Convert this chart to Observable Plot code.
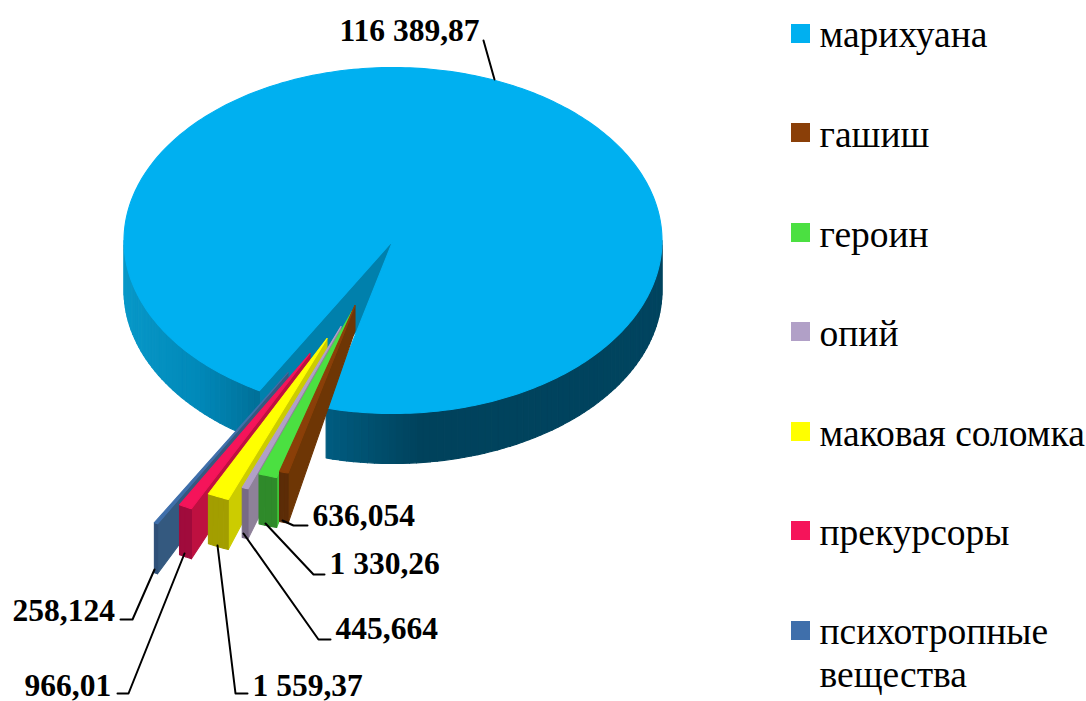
<!DOCTYPE html>
<html lang="ru">
<head>
<meta charset="utf-8">
<style>html,body{margin:0;padding:0;background:#fff}svg{display:block}</style>
<script src="https://cdn.jsdelivr.net/npm/d3@7"></script>
<script src="https://cdn.jsdelivr.net/npm/@observablehq/plot@0.6"></script>
</head>
<body>
<div id="chart"></div>
<script>
// Data
const categories = ["марихуана","гашиш","героин","опий","маковая соломка","прекурсоры","психотропные\nвещества"];
const values = [116389.87,636.054,1330.26,445.664,1559.37,966.01,258.124];
const valueLabels = ["116 389,87","636,054","1 330,26","445,664","1 559,37","966,01","258,124"];

// Styles
const topColors  = ["#00B0F0","#8A3F08","#4BE041","#B1A0C7","#FFFF00","#F5145A","#3F6FAB"];
const rimColors  = [null,"#5C2C07","#2F8A2A","#776A85","#A39E00","#A00B3C","#2F5078"];
const wallColors = ["#0080AC","#6E3605","#3FC238","#8E8199","#CCCC00","#BE1040","#34597F"];

// Pie layout: 3D projection and explosion of each slice
const pie3d = {cx: 392.5, cy: 240, rx: 269, ry: 173, depth: 50, apexDepth: 25, startDeg: 29.78};
const explodeX = [0,-38,-41,-52,-66,-83,-105];
const explodeY = [0,65,71,86,98,113,132];
const drawOrder = [6,5,4,3,2,1];

const rimShade = d3.scaleLinear()
  .domain([123,200,258,326,420,662])
  .range(["#0898C8","#0088B8","#007098","#005C80","#00425C","#00445F"]);

const labelAnchors = [[339,40],[312,525],[329,573],[335,638],[252,695],[24,695],[12,620]];
const leaders = [
  [[483,40],[494,79]],
  [[282,520],[293,525],[307,525]],
  [[265,523],[313,574],[324,574]],
  [[243,533],[318,639],[330,639]],
  [[217,545],[235,693],[247,693]],
  [[184,553],[128,693],[117,693]],
  [[154,569],[132,619],[120,619]]
];
const legendBaselines = [46,146,246,345,445,544,643];
const legendSwatchTops = [24,123,223,322,422,521,621];
const legendFontSize = 37.5, legendLinePx = 44;

// Geometry derived from the values
const arcs = d3.pie().sort(null)
  .startAngle(pie3d.startDeg*Math.PI/180)
  .endAngle(pie3d.startDeg*Math.PI/180+2*Math.PI)(values);
const px = (a,i=0)=>pie3d.cx-pie3d.rx*Math.sin(a)+explodeX[i];
const py = (a,i=0,d=0)=>pie3d.cy+pie3d.ry*Math.cos(a)+explodeY[i]+d;

const polys = [];
let pid = 0;
function addPoly(points,color,sw=0.4){
  const id = pid++;
  [...points,points[0]].forEach(([x,y])=>polys.push({id,color,x,y,sw}));
}
function arcAngles(a0,a1,step){
  const n = Math.max(1,Math.ceil((a1-a0)/step));
  return d3.range(n+1).map(k=>a0+(a1-a0)*k/n);
}
function rimStrip(a0,a1,i,colorOf){
  const as = arcAngles(a0,a1,1.5*Math.PI/180);
  for(let k=0;k<as.length-1;k++){
    const a=as[k],b=as[k+1];
    addPoly([[px(a,i),py(a,i)],[px(b,i),py(b,i)],[px(b,i),py(b,i,pie3d.depth)],[px(a,i),py(a,i,pie3d.depth)]],colorOf((a+b)/2));
  }
}
// Main slice: cut wall, rim, top
const main = arcs[0];
addPoly([[pie3d.cx,pie3d.cy],[px(main.startAngle),py(main.startAngle)],
         [px(main.startAngle),py(main.startAngle,0,pie3d.depth)],[pie3d.cx,pie3d.cy+pie3d.depth]],wallColors[0]);
const shade = a=>rimShade(px(a));
rimStrip(main.startAngle,Math.PI/2,0,shade);
rimStrip(1.5*Math.PI,main.endAngle,0,shade);
addPoly([[pie3d.cx,pie3d.cy],...arcAngles(main.startAngle,main.endAngle,Math.PI/180).map(a=>[px(a),py(a)])],topColors[0]);
// Exploded slices, back to front
for(const i of drawOrder){
  const {startAngle:s,endAngle:e} = arcs[i];
  const ax = pie3d.cx+explodeX[i], ay = pie3d.cy+explodeY[i];
  addPoly([[ax,ay],[px(s,i),py(s,i)],[px(s,i),py(s,i,pie3d.depth)],[ax,ay+pie3d.apexDepth]],wallColors[i]);
  rimStrip(s,e,i,()=>rimColors[i]);
  addPoly([[ax,ay],...arcAngles(s,e,Math.PI/360).map(a=>[px(a,i),py(a,i)])],topColors[i]);
}

const leaderRows = leaders.flatMap((pts,id)=>pts.map(([x,y])=>({id,x,y})));
const labelRows = valueLabels.map((t,i)=>({t,x:labelAnchors[i][0],y:labelAnchors[i][1]}));
const legendRows = categories.map((t,i)=>({t,color:topColors[i],base:legendBaselines[i],top:legendSwatchTops[i]}));

const chart = Plot.plot({
  width:1086,height:701,margin:0,
  x:{domain:[0,1086],range:[0,1086],axis:null},
  y:{domain:[0,701],range:[0,701],axis:null},
  color:{type:"identity"},
  style:{background:"#fff"},
  marks:[
    Plot.line(polys,{x:"x",y:"y",z:"id",fill:"color",stroke:"color",strokeWidth:1.1,curve:"linear"}),
    Plot.line(leaderRows,{x:"x",y:"y",z:"id",stroke:"#000",strokeWidth:2,curve:"linear"}),
    Plot.text(labelRows,{x:"x",y:"y",text:"t",textAnchor:"start",lineAnchor:"bottom",fontFamily:"Liberation Serif",fontWeight:"bold",fontSize:31.5,fill:"#000"}),
    Plot.rect(legendRows,{x1:()=>791,x2:()=>810,y1:"top",y2:d=>d.top+19,fill:"color"}),
    Plot.text(legendRows,{x:()=>819,y:d=>d.base-0.71*legendLinePx,text:"t",textAnchor:"start",lineAnchor:"top",lineHeight:legendLinePx/legendFontSize,fontFamily:"Liberation Serif",fontSize:legendFontSize,fill:"#000"})
  ]
});
document.getElementById("chart").appendChild(chart);
</script>
</body>
</html>
